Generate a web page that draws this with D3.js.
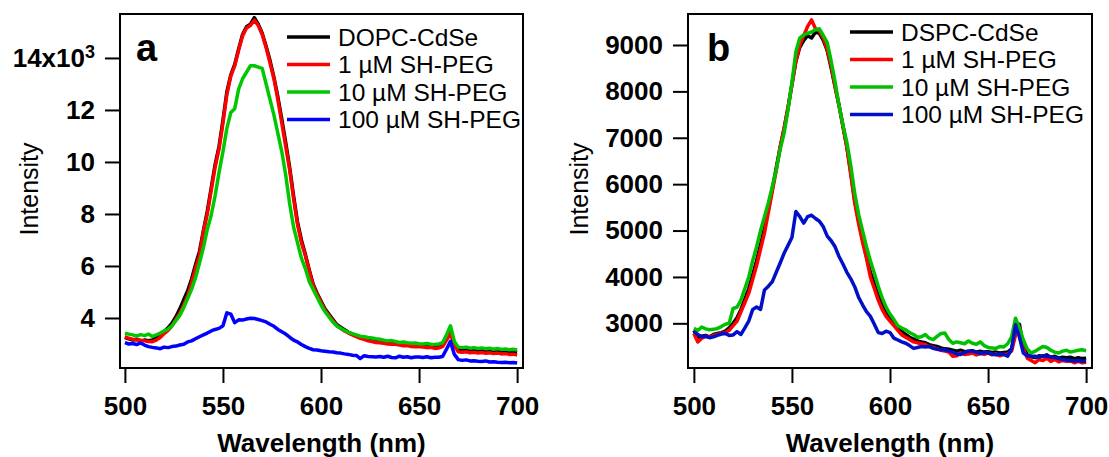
<!DOCTYPE html>
<meta charset="utf-8">
<script src="https://cdnjs.cloudflare.com/ajax/libs/d3/7.8.5/d3.min.js"></script>
<style>
body { margin: 0; background: #fff; }
text { font-family: "Liberation Sans", Arial, sans-serif; fill: #000; }
.tick text { font-size: 26px; font-weight: bold; }
.tick line { stroke: #000; stroke-width: 2px; }
.frame { fill: none; stroke: #000; stroke-width: 2px; }
.trace { fill: none; stroke-width: 3.5px; stroke-linejoin: round; }
.legend text { font-size: 24.5px; }
</style>
<body>
<script>

// wavelength grid (nm), shared by all traces
var wavelength = [];
for (var w = 500; w <= 700; w += 2) wavelength.push(w);

var xTicks = [500, 550, 600, 650, 700];
var aYTicks = [4000, 6000, 8000, 10000, 12000, 14000];
var aYLabels = ["4", "6", "8", "10", "12", "14x10"];
var bYTicks = [3000, 4000, 5000, 6000, 7000, 8000, 9000];

var aNames = ["DOPC-CdSe", "1 µM SH-PEG", "10 µM SH-PEG", "100 µM SH-PEG"];
var bNames = ["DSPC-CdSe", "1 µM SH-PEG", "10 µM SH-PEG", "100 µM SH-PEG"];

// panel a
var aBlack = [3250,3200,3150,3180,3120,3150,3130,3150,3250,3350,3480,3620,3800,4050,4350,4700,5050,5500,6050,6550,
  7350,8100,9000,9900,10600,11600,12700,13350,13750,14350,14900,15200,15300,15550,15300,14950,14450,13900,13250,12500,
  11650,10750,9800,8700,7700,7000,6450,5850,5300,4950,4650,4350,4150,3950,3750,3650,3550,3450,3380,3320,
  3260,3220,3170,3130,3100,3090,3060,3050,3020,3030,3000,2980,2990,2950,2960,2940,2930,2920,2930,2900,
  2920,2980,3250,3550,3000,2780,2760,2790,2740,2770,2730,2760,2720,2750,2710,2740,2700,2720,2690,2710,2680];
var aRed = [3280,3220,3180,3150,3150,3120,3100,3090,3150,3250,3400,3520,3700,3950,4180,4500,4850,5350,5900,6400,
  7300,8000,8900,9800,10500,11500,12600,13300,13700,14300,14850,15150,15250,15450,15250,14900,14400,13800,13200,12400,
  11500,10600,9700,8600,7600,6900,6400,5800,5250,4900,4600,4300,4100,3900,3700,3600,3500,3420,3350,3280,
  3220,3180,3120,3090,3060,3050,3030,3000,2990,2990,2960,2930,2940,2900,2890,2900,2880,2860,2870,2830,
  2850,2900,3150,3400,2950,2700,2680,2700,2660,2680,2650,2670,2640,2660,2630,2650,2620,2630,2600,2610,2580];
var aGreen = [3420,3380,3350,3300,3360,3320,3380,3290,3350,3420,3500,3570,3700,3900,4100,4400,4750,5100,5550,6100,
  6700,7400,7950,8700,9600,10400,11300,11900,12050,12800,13200,13450,13700,13700,13650,13600,13000,12400,11800,11100,
  10400,9500,8400,7500,6900,6300,5900,5400,5100,4800,4500,4250,4050,3850,3700,3600,3520,3450,3400,3350,
  3300,3280,3250,3230,3200,3180,3150,3120,3130,3100,3060,3080,3050,3030,3040,3010,3000,3020,2990,2980,
  3000,3050,3350,3700,3100,2880,2860,2880,2840,2860,2830,2850,2820,2840,2800,2830,2790,2810,2780,2800,2770];
var aBlue = [3050,3000,3020,2980,3040,2960,2900,2870,2850,2820,2880,2860,2900,2920,2960,2990,3080,3120,3200,3280,
  3350,3420,3500,3560,3600,3700,4200,4150,3820,3930,3920,3960,3990,3980,3940,3900,3850,3760,3680,3560,
  3470,3380,3260,3150,3080,2980,2900,2830,2780,2770,2740,2720,2700,2690,2660,2650,2620,2600,2570,2560,
  2440,2550,2520,2510,2500,2520,2490,2530,2480,2470,2530,2490,2510,2470,2500,2500,2480,2510,2470,2490,
  2490,2520,2800,3100,2600,2400,2370,2390,2350,2360,2340,2330,2350,2310,2320,2300,2290,2300,2280,2290,2270];

// panel b
var bBlack = [2850,2700,2720,2740,2710,2760,2780,2800,2830,2900,3000,3120,3300,3520,3750,4050,4350,4700,5050,5450,
  5900,6350,6800,7200,7650,8150,8650,8950,9100,9200,9150,9280,9250,9100,8880,8500,8100,7700,7250,6800,
  6250,5650,5200,4800,4450,4100,3850,3600,3400,3250,3100,3000,2900,2820,2760,2700,2660,2620,2600,2580,
  2540,2520,2500,2470,2450,2440,2420,2400,2420,2390,2400,2410,2380,2400,2380,2390,2370,2380,2360,2370,
  2380,2450,2800,2980,2500,2320,2280,2260,2300,2290,2320,2260,2290,2250,2270,2260,2270,2240,2260,2240,2250];
var bRed = [2780,2600,2680,2720,2700,2740,2760,2780,2800,2850,2950,3050,3250,3450,3650,3950,4250,4600,4950,5400,
  5850,6300,6800,7200,7650,8150,8650,9000,9200,9400,9540,9350,9300,9150,8900,8550,8100,7700,7250,6800,
  6200,5600,5150,4750,4400,4000,3750,3500,3300,3150,3050,2950,2850,2750,2700,2650,2600,2580,2560,2540,
  2500,2480,2450,2420,2400,2380,2290,2300,2360,2330,2340,2360,2320,2350,2330,2360,2320,2340,2300,2330,
  2340,2400,2750,2900,2450,2250,2200,2150,2220,2200,2250,2180,2220,2170,2200,2180,2190,2150,2180,2150,2160];
var bGreen = [2890,2850,2920,2880,2860,2870,2890,2930,2980,3000,3320,3350,3500,3750,4000,4350,4650,5000,5300,5600,
  5950,6310,6750,7100,7600,8200,8850,9150,9220,9250,9280,9330,9350,9200,9050,8650,8200,7700,7280,6900,
  6400,5800,5350,5000,4650,4350,4080,3800,3550,3350,3200,3080,2950,2900,2860,2800,2760,2700,2710,2760,
  2680,2650,2720,2780,2790,2650,2570,2600,2580,2560,2620,2570,2550,2600,2520,2480,2470,2460,2500,2490,
  2560,2710,3110,2900,2640,2450,2360,2400,2450,2500,2480,2420,2380,2360,2400,2420,2380,2400,2420,2430,2410];
var bBlue = [2820,2760,2710,2720,2690,2710,2740,2770,2780,2740,2750,2820,2760,2900,3050,3300,3350,3300,3720,3800,
  3900,4100,4300,4510,4680,4850,5410,5300,5160,5300,5330,5260,5200,5080,4880,4780,4650,4440,4280,4100,
  3960,3790,3560,3400,3250,3150,2980,2800,2780,2830,2800,2680,2640,2600,2570,2520,2460,2480,2500,2490,
  2500,2460,2440,2430,2430,2400,2380,2340,2330,2370,2400,2400,2380,2350,2370,2360,2340,2320,2340,2330,
  2290,2450,2970,2700,2360,2300,2290,2290,2270,2300,2290,2280,2260,2240,2220,2210,2200,2190,2200,2180,2180];

var width = 1109, height = 457;

var svg = d3.select("body").append("svg")
    .attr("width", width)
    .attr("height", height)
    .style("background", "#fff");

function drawPanel(opt) {
  var x = d3.scaleLinear().domain(opt.xDomain).range([opt.left, opt.right]);
  var y = d3.scaleLinear().domain(opt.yDomain).range([368, 14]);

  var g = svg.append("g");

  // traces
  var line = d3.line()
      .x(function(d, i) { return x(wavelength[i]); })
      .y(function(d) { return y(d); });

  opt.series.forEach(function(s, k) {
    g.append("path")
        .attr("class", "trace")
        .attr("d", line(s))
        .style("stroke", opt.colors[k]);
  });

  // frame
  g.append("rect")
      .attr("class", "frame")
      .attr("x", opt.left)
      .attr("y", 14)
      .attr("width", opt.right - opt.left)
      .attr("height", 368 - 14);

  // axes
  var xAxis = g.append("g")
      .attr("transform", "translate(0,368)")
      .call(d3.axisBottom(x).tickValues(xTicks).tickSize(15).tickPadding(14));
  xAxis.select(".domain").remove();

  var yAxis = g.append("g")
      .attr("transform", "translate(" + opt.left + ",0)")
      .call(d3.axisLeft(y).tickValues(opt.yTicks).tickSize(15).tickPadding(10)
        .tickFormat(opt.yFormat));
  yAxis.select(".domain").remove();
  g.selectAll(".tick text").attr("fill", "#000");

  if (opt.superTick != null) {
    yAxis.selectAll(".tick text")
      .filter(function(d) { return d === opt.superTick; })
      .append("tspan")
        .attr("dy", "-0.5em")
        .style("font-size", "18px")
        .text("3");
  }

  // axis titles
  g.append("text")
      .attr("x", (opt.left + opt.right) / 2)
      .attr("y", 452)
      .attr("text-anchor", "middle")
      .style("font-size", "26px")
      .style("font-weight", "bold")
      .text("Wavelength (nm)");

  g.append("text")
      .attr("transform", "translate(" + opt.titleX + ",189) rotate(-90)")
      .attr("text-anchor", "middle")
      .style("font-size", "25px")
      .text("Intensity");

  // panel letter
  g.append("text")
      .attr("x", opt.letterX)
      .attr("y", 61)
      .style("font-size", "38px")
      .style("font-weight", "bold")
      .text(opt.letter);

  // legend
  var leg = g.append("g").attr("class", "legend");
  opt.names.forEach(function(name, k) {
    var ly = opt.legY + k * 27.5;
    leg.append("line")
        .attr("x1", opt.legX).attr("x2", opt.legX + 43)
        .attr("y1", ly).attr("y2", ly)
        .style("stroke", opt.colors[k])
        .style("stroke-width", 3.5);
    leg.append("text")
        .attr("x", opt.legX + 51)
        .attr("y", ly + 8.5)
        .text(name);
  });
}

drawPanel({
  left: 120, right: 523,
  xDomain: [497.5, 703],
  yDomain: [2077, 15690],
  yTicks: aYTicks,
  yFormat: function(d) { return aYLabels[aYTicks.indexOf(d)]; },
  superTick: 14000,
  series: [aBlack, aRed, aGreen, aBlue],
  colors: ["#000000", "#ff0000", "#00c800", "#0000ff"],
  names: aNames,
  titleX: 38,
  letter: "a", letterX: 136,
  legX: 287, legY: 37
});

drawPanel({
  left: 688, right: 1092,
  xDomain: [497, 703],
  yDomain: [2037, 9668],
  yTicks: bYTicks,
  yFormat: d3.format("d"),
  superTick: null,
  series: [bBlack, bRed, bGreen, bBlue],
  colors: ["#000000", "#ff0000", "#00c000", "#0010c8"],
  names: bNames,
  titleX: 588,
  letter: "b", letterX: 707,
  legX: 850, legY: 32
});

</script>
</body>
